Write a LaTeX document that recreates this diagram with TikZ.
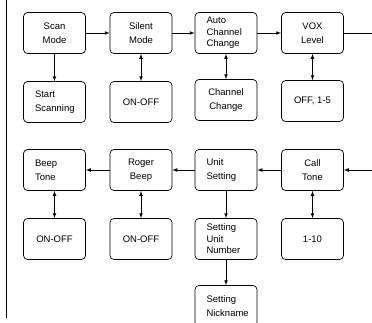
\documentclass[tikz,border=0pt]{standalone}
\usepackage{fontspec}
\setmainfont{Liberation Sans}
\usetikzlibrary{arrows}

\tikzset{
  menubox/.style={draw, rounded corners=4pt, line width=0.7pt,
    minimum width=62pt, minimum height=41pt, inner sep=2pt,
    align=center, font=\fontsize{9.5}{14}\selectfont},
  tightbox/.style={menubox, font=\fontsize{9.5}{11.5}\selectfont},
  leftbox/.style={text width=39pt, align=left},
  link/.style={line width=0.7pt, -latex},
  both/.style={line width=0.7pt, latex-latex}
}

\begin{document}
\begin{tikzpicture}[x=1pt, y=-1pt]
                \clip (0, 0) rectangle (372, 322);
                % left rule
                \draw [line width=0.9pt] (6.5, 0) -- (6.5, 318);
                % top row
                \node [menubox] (scan) at (54.5, 33) {Scan\\Mode};
                \node [menubox] (silent) at (141, 33) {Silent\\Mode};
                \node [tightbox, leftbox] (auto) at (226, 33) {Auto\\Channel\\Change};
                \node [menubox] (vox) at (312.5, 33) {VOX\\Level};
                \node [menubox, leftbox] (start) at (54.5, 102) {Start\\Scanning};
                \node [menubox] (silentval) at (141, 102) {ON-OFF};
                \node [menubox] (chan) at (226, 100) {Channel\\Change};
                \node [menubox] (voxval) at (312.5, 101) {OFF, 1-5};
                \coordinate (outR) at (372, 33);
                \draw [link] (scan) -- (silent);
                \draw [link] (silent) -- (auto);
                \draw [link] (auto) -- (vox);
                \draw [line width=0.7pt] (vox) -- (outR);
                \draw [link] (scan) -- (start);
                \draw [both] (silent) -- (silentval);
                \draw [both] (auto) -- (chan);
                \draw [both] (vox) -- (voxval);
                % bottom row
                \node [menubox, leftbox] (beep) at (54.5, 170) {Beep\\Tone};
                \node [menubox] (roger) at (141, 170) {Roger\\Beep};
                \node [menubox, leftbox] (unit) at (226, 170) {Unit\\Setting};
                \node [menubox] (call) at (312.5, 170) {Call\\Tone};
                \node [menubox] (beepval) at (54.5, 239) {ON-OFF};
                \node [menubox] (rogerval) at (141, 239) {ON-OFF};
                \node [tightbox, leftbox] (unitnum) at (226, 239) {Setting\\Unit\\Number};
                \node [menubox] (callval) at (312.5, 239) {1-10};
                \node [menubox, leftbox] (nick) at (226, 306) {Setting\\Nickname};
                \coordinate (inR) at (372, 170);
                \draw [link] (inR) -- (call);
                \draw [link] (call) -- (unit);
                \draw [link] (unit) -- (roger);
                \draw [link] (roger) -- (beep);
                \draw [both] (beep) -- (beepval);
                \draw [both] (roger) -- (rogerval);
                \draw [link] (unit) -- (unitnum);
                \draw [link] (unitnum) -- (nick);
                \draw [both] (call) -- (callval);
\end{tikzpicture}
\end{document}
